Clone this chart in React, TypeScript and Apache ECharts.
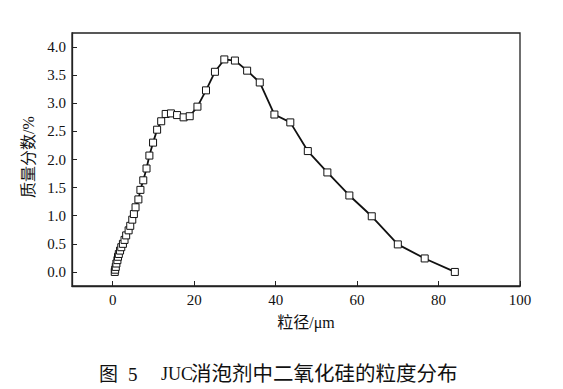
import React, { useEffect, useRef } from "react";
import * as echarts from "echarts";

const sizeX: number[] = [0.5, 0.6, 0.75, 0.9, 1.15, 1.3, 1.5, 1.8, 2.1, 2.5, 2.9, 3.3, 3.9, 4.3, 4.8, 5.2, 5.6, 6.3, 6.8, 7.5, 8.3, 9.0, 9.9, 10.9, 11.9, 13.0, 14.3, 15.8, 17.4, 18.9, 20.8, 22.9, 25.1, 27.4, 30.0, 33.0, 36.1, 39.7, 43.6, 47.9, 52.7, 58.1, 63.6, 70.0, 76.6, 84.0];
const massPct: number[] = [0.0, 0.04, 0.09, 0.15, 0.21, 0.27, 0.32, 0.38, 0.44, 0.5, 0.57, 0.65, 0.74, 0.82, 0.93, 1.03, 1.15, 1.29, 1.46, 1.63, 1.84, 2.07, 2.3, 2.53, 2.68, 2.81, 2.82, 2.79, 2.75, 2.77, 2.94, 3.23, 3.56, 3.78, 3.76, 3.58, 3.37, 2.8, 2.66, 2.15, 1.77, 1.36, 0.99, 0.49, 0.24, 0.0];
const xTicks: number[] = [0, 20, 40, 60, 80, 100];
const yTicks: number[] = [0, 0.5, 1.0, 1.5, 2.0, 2.5, 3.0, 3.5, 4.0];

const serif = "'Liberation Serif', 'DejaVu Serif', serif";
const mixed = "'Liberation Serif', 'Noto Sans CJK SC', serif";

export default function App() {
  const ref = useRef<HTMLDivElement>(null);
  useEffect(() => {
    if (!ref.current) return;
    const chart = echarts.init(ref.current, undefined, { renderer: "svg" });
    const data = sizeX.map((x, i) => [x, massPct[i]]);
    chart.setOption({
      animation: false,
      backgroundColor: "#ffffff",
      grid: { left: 72, right: 43, top: 33, bottom: 103, show: true, borderColor: "#222", borderWidth: 1.3, containLabel: false },
      xAxis: {
        type: "value",
        min: -10,
        max: 100,
        splitLine: { show: false },
        axisLine: { show: true, onZero: false, lineStyle: { color: "#222", width: 1.3 } },
        axisTick: { show: true, inside: true, length: 5, customValues: xTicks, lineStyle: { color: "#222" } },
        axisLabel: { customValues: xTicks, color: "#111", fontFamily: serif, fontSize: 15, margin: 6 },
      },
      yAxis: {
        type: "value",
        min: -0.25,
        max: 4.25,
        splitLine: { show: false },
        axisLine: { show: true, onZero: false, lineStyle: { color: "#222", width: 1.3 } },
        axisTick: { show: true, inside: true, length: 5, customValues: yTicks, lineStyle: { color: "#222" } },
        axisLabel: {
          customValues: yTicks,
          color: "#111",
          fontFamily: serif,
          fontSize: 15,
          margin: 6,
          formatter: (v: number) => v.toFixed(1),
        },
      },
      series: [
        {
          type: "line",
          data,
          symbol: "rect",
          symbolSize: 7,
          lineStyle: { color: "#111", width: 1.8 },
          itemStyle: { color: "#ffffff", borderColor: "#111", borderWidth: 1 },
          z: 3,
        },
      ],
      graphic: [
        {
          type: "text",
          x: 28,
          y: 157,
          rotation: Math.PI / 2,
          style: { text: "质量分数/%", font: `16px ${mixed}`, fill: "#111", align: "center", verticalAlign: "middle" },
        },
        {
          type: "text",
          x: 306,
          y: 322,
          style: { text: "粒径/μm", font: `16px ${mixed}`, fill: "#111", align: "center", verticalAlign: "middle" },
        },
        {
          type: "text",
          x: 99,
          y: 374,
          style: { text: "图", font: `19px ${mixed}`, fill: "#111", align: "left", verticalAlign: "middle" },
        },
        {
          type: "text",
          x: 128,
          y: 374,
          style: { text: "5", font: `19px ${mixed}`, fill: "#111", align: "left", verticalAlign: "middle" },
        },
        {
          type: "text",
          x: 161,
          y: 374,
          style: { text: "JUC", font: `18px ${serif}`, fill: "#111", align: "left", verticalAlign: "middle" },
        },
        {
          type: "text",
          x: 191,
          y: 374,
          style: { text: "消泡剂中二氧化硅的粒度分布", font: `20.5px ${mixed}`, fill: "#111", align: "left", verticalAlign: "middle" },
        },
      ],
    });
    return () => chart.dispose();
  }, []);
  return (
    <div
      ref={ref}
      style={{ position: "fixed", left: 0, top: 0, width: 563, height: 389, background: "#fff" }}
    />
  );
}
